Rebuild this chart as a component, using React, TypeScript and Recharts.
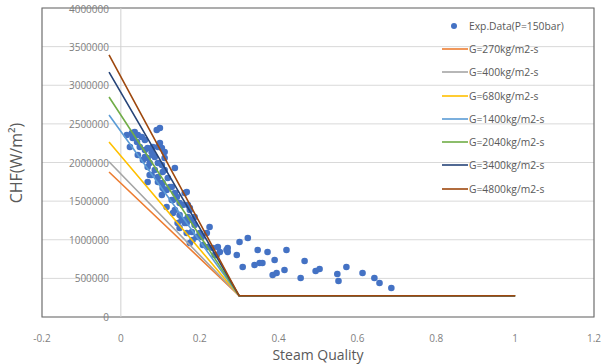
import React from "react";
import {
  ScatterChart,
  Scatter,
  XAxis,
  YAxis,
  CartesianGrid,
  ReferenceLine,
  ReferenceArea,
  Legend,
} from "recharts";

// Experimental data (P = 150 bar)
const expQuality = [
  0.028, 0.035, 0.043, 0.03, 0.053, 0.041, 0.061, 0.023, 0.048, 0.061, 0.068, 0.078, 0.091, 0.099, 0.094,
  0.104, 0.111, 0.043, 0.061, 0.068, 0.086, 0.111, 0.137, 0.068, 0.086, 0.111, 0.073, 0.094, 0.119, 0.068,
  0.056, 0.081, 0.015, 0.099, 0.104, 0.106, 0.094, 0.106, 0.116, 0.129, 0.104, 0.116, 0.129, 0.142, 0.149,
  0.162, 0.137, 0.149, 0.17, 0.175, 0.154, 0.144, 0.167, 0.18, 0.187, 0.167, 0.18, 0.182, 0.175, 0.2,
  0.205, 0.225, 0.218, 0.208, 0.22, 0.233, 0.238, 0.246, 0.251, 0.271, 0.271, 0.294, 0.301, 0.322, 0.309,
  0.339, 0.352, 0.359, 0.347, 0.372, 0.39, 0.42, 0.385, 0.395, 0.415, 0.167, 0.157, 0.17, 0.162, 0.187,
  0.192, 0.243, 0.268, 0.466, 0.456, 0.494, 0.504, 0.549, 0.552, 0.572, 0.613, 0.643, 0.656, 0.686, 0.073,
  0.081, 0.094, 0.078, 0.111, 0.124, 0.132, 0.132, 0.149, 0.162, 0.106, 0.137, 0.175,
];
const expChf = [
  2382000, 2395000, 2356000, 2317000, 2330000, 2265000, 2291000, 2201000, 2201000, 2162000, 2188000, 2136000,
  2421000, 2447000, 2201000, 2188000, 2136000, 2097000, 2071000, 2058000, 2071000, 2058000, 1929000, 1942000,
  1903000, 1903000, 1838000, 1812000, 1799000, 1748000, 2032000, 2201000, 2356000, 2252000, 1968000, 1877000,
  1748000, 1670000, 1644000, 1683000, 1579000, 1424000, 1515000, 1553000, 1476000, 1605000, 1385000, 1320000,
  1450000, 1385000, 1256000, 1217000, 1217000, 1256000, 1295000, 1087000, 1100000, 997000, 958000, 1087000,
  1036000, 1165000, 1087000, 932000, 906000, 893000, 803000, 906000, 841000, 841000, 893000, 803000, 971000,
  1023000, 647000, 673000, 699000, 699000, 867000, 841000, 738000, 867000, 544000, 570000, 608000, 1618000,
  1450000, 1295000, 1217000, 1191000, 1036000, 803000, 867000, 725000, 505000, 595000, 621000, 557000, 466000,
  647000, 570000, 505000, 440000, 375000, 1994000, 2097000, 1994000, 1838000, 1644000, 1683000, 1515000,
  1346000, 1152000, 1256000, 1735000, 1605000, 1411000,
];

// Correlation lines
const lineNames = [
  "G=270kg/m2-s",
  "G=400kg/m2-s",
  "G=680kg/m2-s",
  "G=1400kg/m2-s",
  "G=2040kg/m2-s",
  "G=3400kg/m2-s",
  "G=4800kg/m2-s",
];
const lineQuality = [-0.03, 0.3, 1.0];
const lineStartChf = [1877000, 2010000, 2265000, 2615000, 2848000, 3171000, 3392000];
const plateauChf = 275000;
const lineColors = ["#ED7D31", "#A5A5A5", "#FFC000", "#5B9BD5", "#70AD47", "#264478", "#9E480E"];

const xTicks = [-0.2, 0, 0.2, 0.4, 0.6, 0.8, 1, 1.2];
const yTicks = [0, 500000, 1000000, 1500000, 2000000, 2500000, 3000000, 3500000, 4000000];

const expData = expQuality.map((q, i) => ({ x: q, y: expChf[i] }));
const lineData = lineStartChf.map((start) =>
  lineQuality.map((q, i) => ({ x: q, y: i === 0 ? start : plateauChf }))
);

const FONT = "'Open Sans', sans-serif";

const YTick = (props: any) => (
  <text
    x={109}
    y={props.y}
    textAnchor="end"
    dominantBaseline="central"
    fill="#7f7f7f"
    fontSize={10}
    fontFamily={FONT}
  >
    {props.payload.value}
  </text>
);

const LegendContent = () => (
  <div style={{ fontFamily: FONT, fontSize: 10.3, color: "#595959" }}>
    <div style={{ height: 23.3, display: "flex", alignItems: "center" }}>
      <svg width={28} height={10}>
        <circle cx={13} cy={5} r={3} fill="#4472C4" />
      </svg>
      <span>Exp.Data(P=150bar)</span>
    </div>
    {lineNames.map((n, i) => (
      <div key={n} style={{ height: 23.3, display: "flex", alignItems: "center" }}>
        <svg width={28} height={10}>
          <line x1={1} y1={5} x2={27} y2={5} stroke={lineColors[i]} strokeWidth={1.6} />
        </svg>
        <span>{n}</span>
      </div>
    ))}
  </div>
);

export default function App() {
  return (
    <div style={{ position: "absolute", left: 0, top: 0 }}>
      <ScatterChart
        width={601}
        height={364}
        margin={{ top: 8, right: 7, bottom: 0, left: 0 }}
        style={{ fontFamily: FONT, background: "#fff" }}
      >
        <CartesianGrid horizontal vertical={false} stroke="#d9d9d9" />
        <XAxis
          type="number"
          dataKey="x"
          domain={[-0.2, 1.2]}
          ticks={xTicks}
          allowDataOverflow
          height={47}
          tickLine={false}
          axisLine={false}
          tickMargin={12}
          tick={{ fill: "#7f7f7f", fontSize: 10, fontFamily: FONT }}
          label={{
            value: "Steam Quality",
            position: "insideBottom",
            offset: 4,
            fill: "#595959",
            fontSize: 14,
            fontFamily: FONT,
          }}
        />
        <YAxis
          type="number"
          dataKey="y"
          domain={[0, 4000000]}
          ticks={yTicks}
          allowDataOverflow
          width={42}
          tickLine={false}
          axisLine={false}
          tick={YTick}
          label={{
            content: () => (
              <text
                transform="translate(16,163) rotate(-90)"
                textAnchor="middle"
                dominantBaseline="central"
                fill="#595959"
                fontSize={16}
                fontFamily={FONT}
              >
                CHF(W/m²)
              </text>
            ),
          }}
        />
        <ReferenceLine x={0} stroke="#d0d0d0" strokeWidth={1} />
        <ReferenceArea
          x1={-0.2}
          x2={1.2}
          y1={0}
          y2={4000000}
          fill="none"
          stroke="#6e6e6e"
          strokeWidth={1.2}
        />
        <Legend
          layout="vertical"
          align="center"
          verticalAlign="middle"
          wrapperStyle={{ top: 14, left: 441, width: 160 }}
          content={LegendContent}
        />
        <Scatter
          name="Exp.Data(P=150bar)"
          data={expData}
          fill="#4472C4"
          isAnimationActive={false}
          shape={(p: any) => <circle cx={p.cx} cy={p.cy} r={3.3} fill="#4472C4" />}
        />
        {lineData.map((d, i) => (
          <Scatter
            key={lineNames[i]}
            name={lineNames[i]}
            data={d}
            fill={lineColors[i]}
            stroke={lineColors[i]}
            line={{ stroke: lineColors[i], strokeWidth: 1.6 }}
            isAnimationActive={false}
            shape={() => <g />}
          />
        ))}
      </ScatterChart>
    </div>
  );
}
